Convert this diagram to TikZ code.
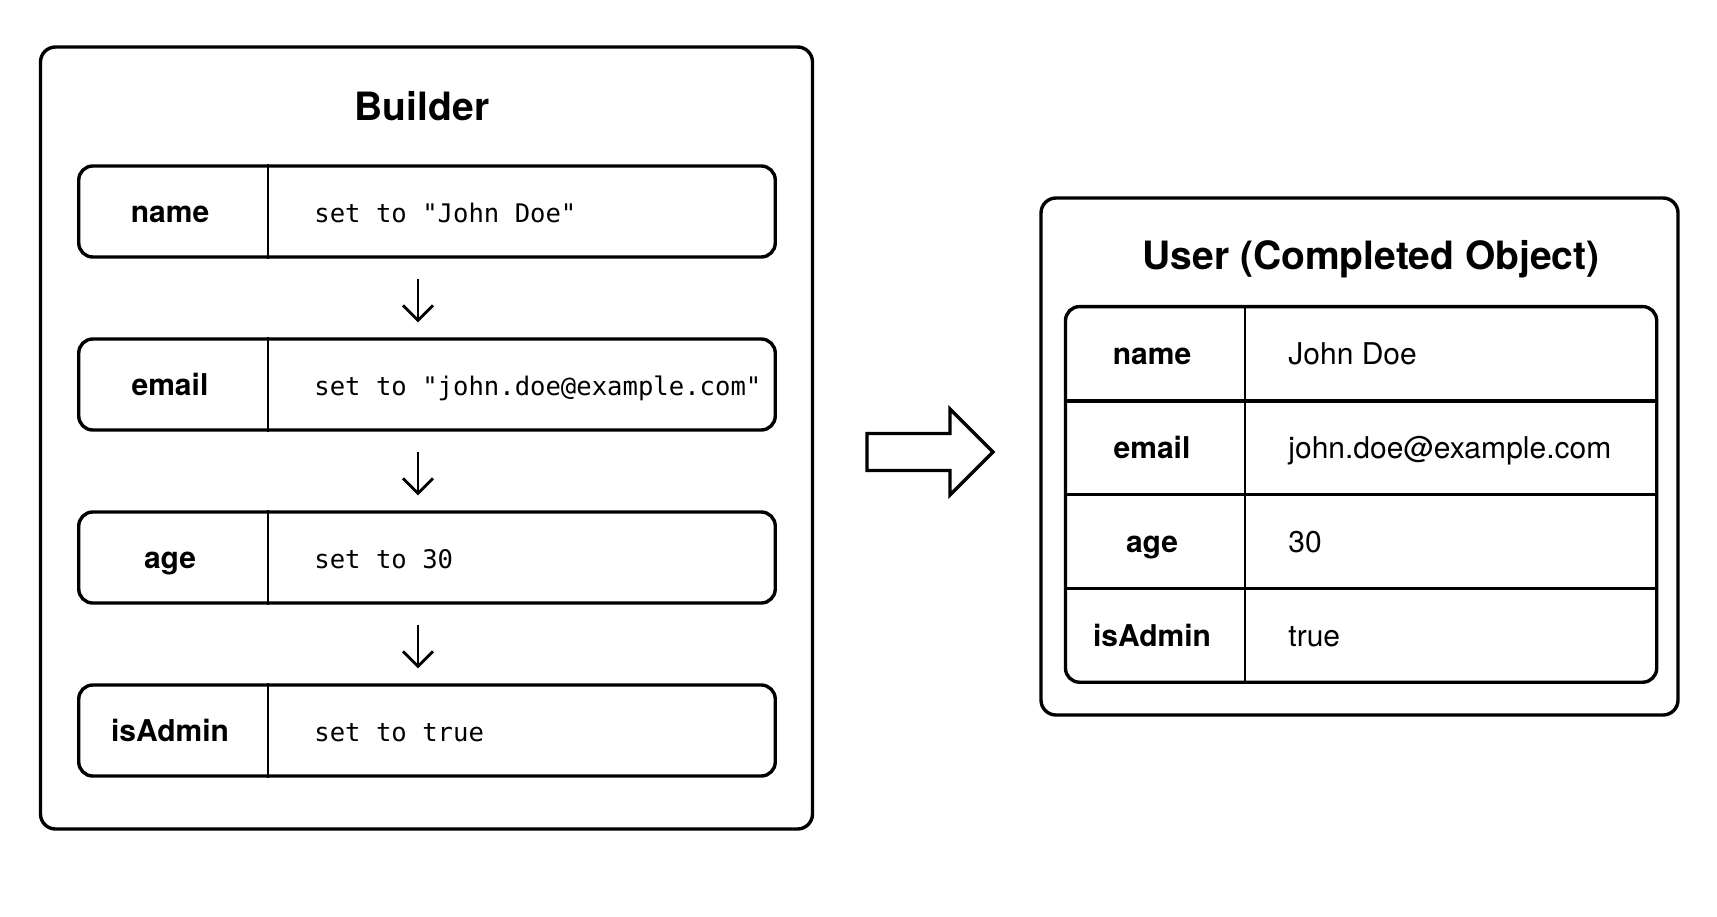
\documentclass[tikz,border=0pt]{standalone}
\usepackage{fontspec}
\setmainfont{TeX Gyre Heros}
\newfontfamily\codefont{DejaVu Sans Mono}
\usetikzlibrary{arrows.meta,positioning,calc}

\begin{document}
\begin{tikzpicture}[x=0.5pt,y=-0.5pt,>={Straight Barb[length=7.5pt,width=15pt]}]
\tikzset{frame/.style={draw=black,line width=1.7pt,rounded corners=7.5pt}, fieldrow/.style={draw=black,line width=1.7pt,rounded corners=7pt,minimum width=348.25pt,minimum height=45.5pt,inner sep=0pt}, cell/.style={minimum width=295.6pt,minimum height=46.95pt,inner sep=0pt}, key/.style={font=\fontsize{15}{18}\selectfont\bfseries,text height=8pt,text depth=0pt,inner sep=0pt,yshift=-1.6pt}, val/.style={anchor=west,font=\fontsize{15}{18}\selectfont,text height=8pt,text depth=0pt,inner sep=0pt,yshift=-1.6pt}, code/.style={anchor=west,font=\fontsize{12.8}{16}\codefont,text height=7pt,text depth=0pt,inner sep=0pt,yshift=-1.8pt}, title/.style={font=\fontsize{19.5}{23}\selectfont\bfseries,text height=14pt,text depth=0pt,inner sep=0pt}, sep/.style={draw=black,line width=1pt}, down/.style={->,draw=black,line width=1.4pt}}
\useasboundingbox (0,0) rectangle (1717,916);
% builder side
\node[frame,minimum width=386pt,minimum height=391pt] (builder) at (426.5,438) {};
\node[title] (btitle) at (422,106) {Builder};
\coordinate (bdiv) at (268.3,0);
\coordinate (ax) at (418,0);
\foreach \lab/\txt [count=\n] in {name/{set to "John Doe"},email/{set to "john.doe@example.com"},age/{set to 30},isAdmin/{set to true}}{
  \node[fieldrow] (r\n) at (427,{211.5+173*(\n-1)}) {};
  \draw[sep] (bdiv |- r\n.north) -- (bdiv |- r\n.south);
  \node[key] (k\n) at (170,{211.5+173*(\n-1)}) {\lab};
  \node[code] (c\n) at (314,{211.5+173*(\n-1)}) {\txt};
}
\foreach \i/\j in {1/2,2/3,3/4} \draw[down] ($(ax |- r\i.south)+(0,20)$) -- ($(ax |- r\j.north)+(0,-15)$);
% block arrow
\draw[line width=1.7pt,line join=miter] (867,433.5) -- (950,433.5) -- (950,409) -- (993,452) -- (950,495) -- (950,470.5) -- (867,470.5) -- cycle;
% user side
\node[frame,minimum width=318.5pt,minimum height=258.5pt] (user) at (1359.5,456.5) {};
\node[title] (utitle) at (1371,255) {User (Completed Object)};
\node[frame,rounded corners=7pt,minimum width=295.6pt,minimum height=187.8pt] (utab) at (1361.1,494.4) {};
\coordinate (udiv) at (1245,0);
\foreach \lab/\txt [count=\n] in {name/John Doe,email/john.doe@example.com,age/30,isAdmin/true}{
  \node[cell] (u\n) at (1361.1,{353.55+93.9*(\n-1)}) {};
  \node[key] (uk\n) at (1152,{353.55+93.9*(\n-1)}) {\lab};
  \node[val] (uv\n) at (1288,{353.55+93.9*(\n-1)}) {\txt};
}
\foreach \n in {1,2,3} \draw[line width=1.6pt] (u\n.south west) -- (u\n.south east);
\draw[sep] (udiv |- utab.north) -- (udiv |- utab.south);
\end{tikzpicture}
\end{document}
